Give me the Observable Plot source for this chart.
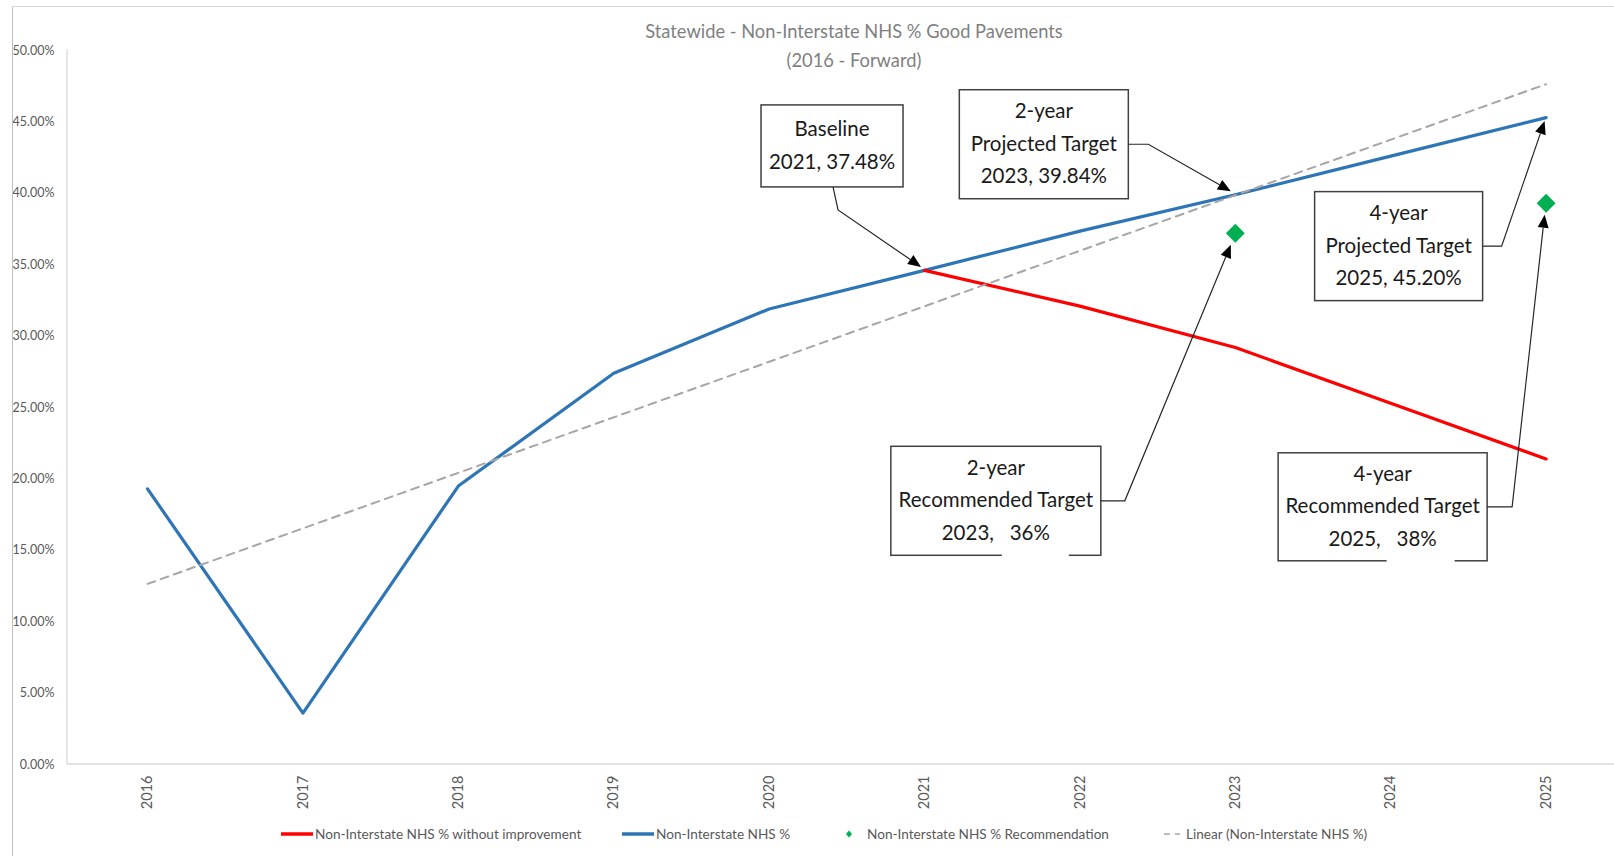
<!DOCTYPE html>
<html>
<head>
<meta charset="utf-8">
<script src="https://cdn.jsdelivr.net/npm/d3@7"></script>
<script src="https://cdn.jsdelivr.net/npm/@observablehq/plot@0.6"></script>
<style>
  html, body { margin: 0; padding: 0; background: #fff; }
  body { font-family: Lato, "Open Sans", sans-serif; }
  #wrap { position: relative; width: 1614px; height: 856px; overflow: hidden; background: #fff; }
  #chart { position: absolute; left: 0; top: 0; }
  #border-left { position: absolute; left: 12px; top: 6px; width: 1px; height: 850px; background: #bfbfbf; }
  #border-top { position: absolute; left: 12px; top: 6px; width: 1602px; height: 1px; background: #d9d9d9; }
  #title { position: absolute; left: 0; top: 17px; width: 1708px; text-align: center; color: #7f7f7f; font-size: 18.3px; line-height: 29px; }
  #legend { position: absolute; left: 0; top: 822px; width: 1614px; height: 24px; font-size: 13.6px; color: #595959; white-space: nowrap; }
  .item { position: absolute; top: 0; height: 24px; display: flex; align-items: center; }
</style>
</head>
<body>
<div id="wrap">
  <div id="chart"></div>
  <div id="border-left"></div>
  <div id="border-top"></div>
  <div id="title">Statewide - Non-Interstate NHS % Good Pavements<br>(2016 - Forward)</div>
  <div id="legend"></div>
</div>
<script>
// ---------- data ----------
const years = [2016, 2017, 2018, 2019, 2020, 2021, 2022, 2023, 2024, 2025];
const nhsPct = [19.3, 3.6, 19.5, 27.4, 31.9, 34.6, 37.35, 39.9, 42.6, 45.3];
const withoutYears = [2021, 2022, 2023, 2024, 2025];
const withoutPct = [34.6, 32.1, 29.2, 25.3, 21.4];
const recYears = [2023, 2025];
const recPct = [37.2, 39.3];
const yTicks = [0, 5, 10, 15, 20, 25, 30, 35, 40, 45, 50];
const seriesNames = [
  "Non-Interstate NHS % without improvement",
  "Non-Interstate NHS %",
  "Non-Interstate NHS % Recommendation",
  "Linear (Non-Interstate NHS %)"
];
const annotationLines = [
  ["Baseline", "2021, 37.48%"],
  ["2-year", "Projected Target", "2023, 39.84%"],
  ["4-year", "Projected Target", "2025, 45.20%"],
  ["2-year", "Recommended Target", "2023,   36%"],
  ["4-year", "Recommended Target", "2025,   38%"]
];
// annotation targets: [year, value] taken from the series above
const annotationTargets = [
  [years[5], nhsPct[5]],
  [years[7], nhsPct[7]],
  [years[9], nhsPct[9]],
  [recYears[0], recPct[0]],
  [recYears[1], recPct[1]]
];

// ---------- layout / style ----------
const colors = { red: "#ff0000", blue: "#2e75b6", green: "#00b050", trend: "#a6a6a6" };
const fontFamily = 'Lato, "Open Sans", sans-serif';
// box layout relative to target pixel: dx, dy = box centre offset; w, h; anchor side; elbow; tip offset; gap in bottom border
const annoLayout = [
  { dx: -92, dy: -124, w: 142, h: 82, anchor: "bottom", ax: 1, elbow: [5, 23], tip: [-3, -3] },
  { dx: -191, dy: -50, w: 169, h: 109, anchor: "right", elbow: [20, 0], tip: [-4, -3] },
  { dx: -147, dy: 129, w: 168, h: 109, anchor: "right", elbow: [19, 0], tip: [-1, 4] },
  { dx: -239, dy: 268, w: 210, h: 109, anchor: "right", elbow: [24, 0], tip: [-4, 12], gap: [6, 73] },
  { dx: -163, dy: 304, w: 209, h: 108, anchor: "right", elbow: [25, 0], tip: [-1, 12], gap: [4, 72] }
];
const legendLeft = [281, 622, 843, 1162];

const nhsData = years.map((y, i) => ({ year: y, pct: nhsPct[i] }));
const withoutData = withoutYears.map((y, i) => ({ year: y, pct: withoutPct[i] }));
const recData = recYears.map((y, i) => ({ year: y, pct: recPct[i] }));

function axisLines(index, scales, values, dim) {
  const g = d3.create("svg:g");
  const x0 = dim.marginLeft, x1 = dim.width - dim.marginRight;
  const yb = dim.height - dim.marginBottom, yt = dim.marginTop - 1;
  g.append("line").attr("x1", x0).attr("x2", x0).attr("y1", yt).attr("y2", yb)
    .attr("stroke", "#d9d9d9").attr("stroke-width", 1.3);
  g.append("line").attr("x1", x0).attr("x2", x1).attr("y1", yb).attr("y2", yb)
    .attr("stroke", "#d9d9d9").attr("stroke-width", 1.3);
  return g.node();
}

function annotations(index, scales) {
  const g = d3.create("svg:g");
  annotationLines.forEach((lines, i) => {
    const L = annoLayout[i];
    const [yr, v] = annotationTargets[i];
    const tx = scales.x(yr), ty = scales.y(v);
    const cx = tx + L.dx, cy = ty + L.dy;
    const left = cx - L.w / 2, top = cy - L.h / 2;
    g.append("rect").attr("x", left).attr("y", top).attr("width", L.w).attr("height", L.h)
      .attr("fill", "#fff").attr("stroke", "#404040").attr("stroke-width", 1.5);
    if (L.gap) {
      g.append("rect").attr("x", cx + L.gap[0]).attr("y", top + L.h - 2)
        .attr("width", L.gap[1] - L.gap[0]).attr("height", 4).attr("fill", "#fff");
    }
    const n = lines.length;
    const lh = 32.5;
    lines.forEach((t, k) => {
      g.append("text").attr("x", cx).attr("y", cy - 1.5 + (k - (n - 1) / 2) * lh)
        .attr("text-anchor", "middle").attr("dominant-baseline", "central")
        .attr("font-size", 20.5).attr("fill", "#1a1a1a")
        .style("white-space", "pre").style("font-family", fontFamily)
        .text(t);
    });
    let sx, sy;
    if (L.anchor === "bottom") { sx = cx + (L.ax || 0); sy = top + L.h; }
    else { sx = left + L.w; sy = cy; }
    const ex = sx + L.elbow[0], ey = sy + L.elbow[1];
    const px = tx + L.tip[0], py = ty + L.tip[1];
    const ang = Math.atan2(py - ey, px - ex);
    const hl = 13, hw = 5.5;
    const bx = px - hl * Math.cos(ang), by = py - hl * Math.sin(ang);
    g.append("path").attr("d", `M${sx},${sy}L${ex},${ey}L${bx},${by}`)
      .attr("fill", "none").attr("stroke", "#262626").attr("stroke-width", 1.2);
    const nx = -Math.sin(ang) * hw, ny = Math.cos(ang) * hw;
    g.append("path").attr("d", `M${px},${py}L${bx + nx},${by + ny}L${bx - nx},${by - ny}Z`)
      .attr("fill", "#000");
  });
  return g.node();
}

const chart = Plot.plot({
  width: 1614,
  height: 818,
  marginLeft: 67,
  marginRight: 0,
  marginTop: 50,
  marginBottom: 54,
  style: { fontFamily, color: "#595959", background: "transparent" },
  x: { type: "linear", domain: [2015.485, 2025.44] },
  y: { domain: [0, 50] },
  marks: [
    axisLines,
    Plot.axisY({ ticks: yTicks, tickFormat: d => d.toFixed(2) + "%", tickSize: 0, tickPadding: 13, fontSize: 12.5, label: null }),
    Plot.axisX({ ticks: years, tickFormat: d => String(d), tickRotate: -90, tickSize: 0, tickPadding: 11, fontSize: 14.5, label: null }),
    Plot.line(nhsData, { x: "year", y: "pct", stroke: colors.blue, strokeWidth: 3.2 }),
    Plot.line(withoutData, { x: "year", y: "pct", stroke: colors.red, strokeWidth: 3.2 }),
    Plot.linearRegressionY(nhsData, { x: "year", y: "pct", stroke: colors.trend, strokeWidth: 2, strokeDasharray: "8,6", ci: 0 }),
    Plot.dot(recData, { x: "year", y: "pct", symbol: "diamond2", r: 8.5, fill: colors.green, stroke: "none" }),
    annotations
  ]
});
document.getElementById("chart").appendChild(chart);

// legend
const legend = d3.select("#legend");
const items = [
  { name: seriesNames[0], kind: "line", color: colors.red },
  { name: seriesNames[1], kind: "line", color: colors.blue },
  { name: seriesNames[2], kind: "diamond", color: colors.green },
  { name: seriesNames[3], kind: "dash", color: colors.trend }
];
items.forEach((it, i) => {
  const d = legend.append("div").attr("class", "item").style("left", legendLeft[i] + "px");
  const sw = d.append("svg").attr("width", it.kind === "line" ? 33 : 18).attr("height", 12);
  if (it.kind === "line") {
    sw.append("line").attr("x1", 0).attr("x2", 32).attr("y1", 6).attr("y2", 6).attr("stroke", it.color).attr("stroke-width", 3.5);
  } else if (it.kind === "diamond") {
    sw.append("path").attr("d", "M6,2.5L9,6L6,9.5L3,6Z").attr("fill", it.color);
  } else {
    sw.append("line").attr("x1", 2).attr("x2", 18).attr("y1", 6).attr("y2", 6).attr("stroke", it.color).attr("stroke-width", 1.6).attr("stroke-dasharray", "6,5");
  }
  d.append("span").style("margin-left", it.kind === "line" ? "1px" : "6px").text(it.name);
});
</script>
</body>
</html>
